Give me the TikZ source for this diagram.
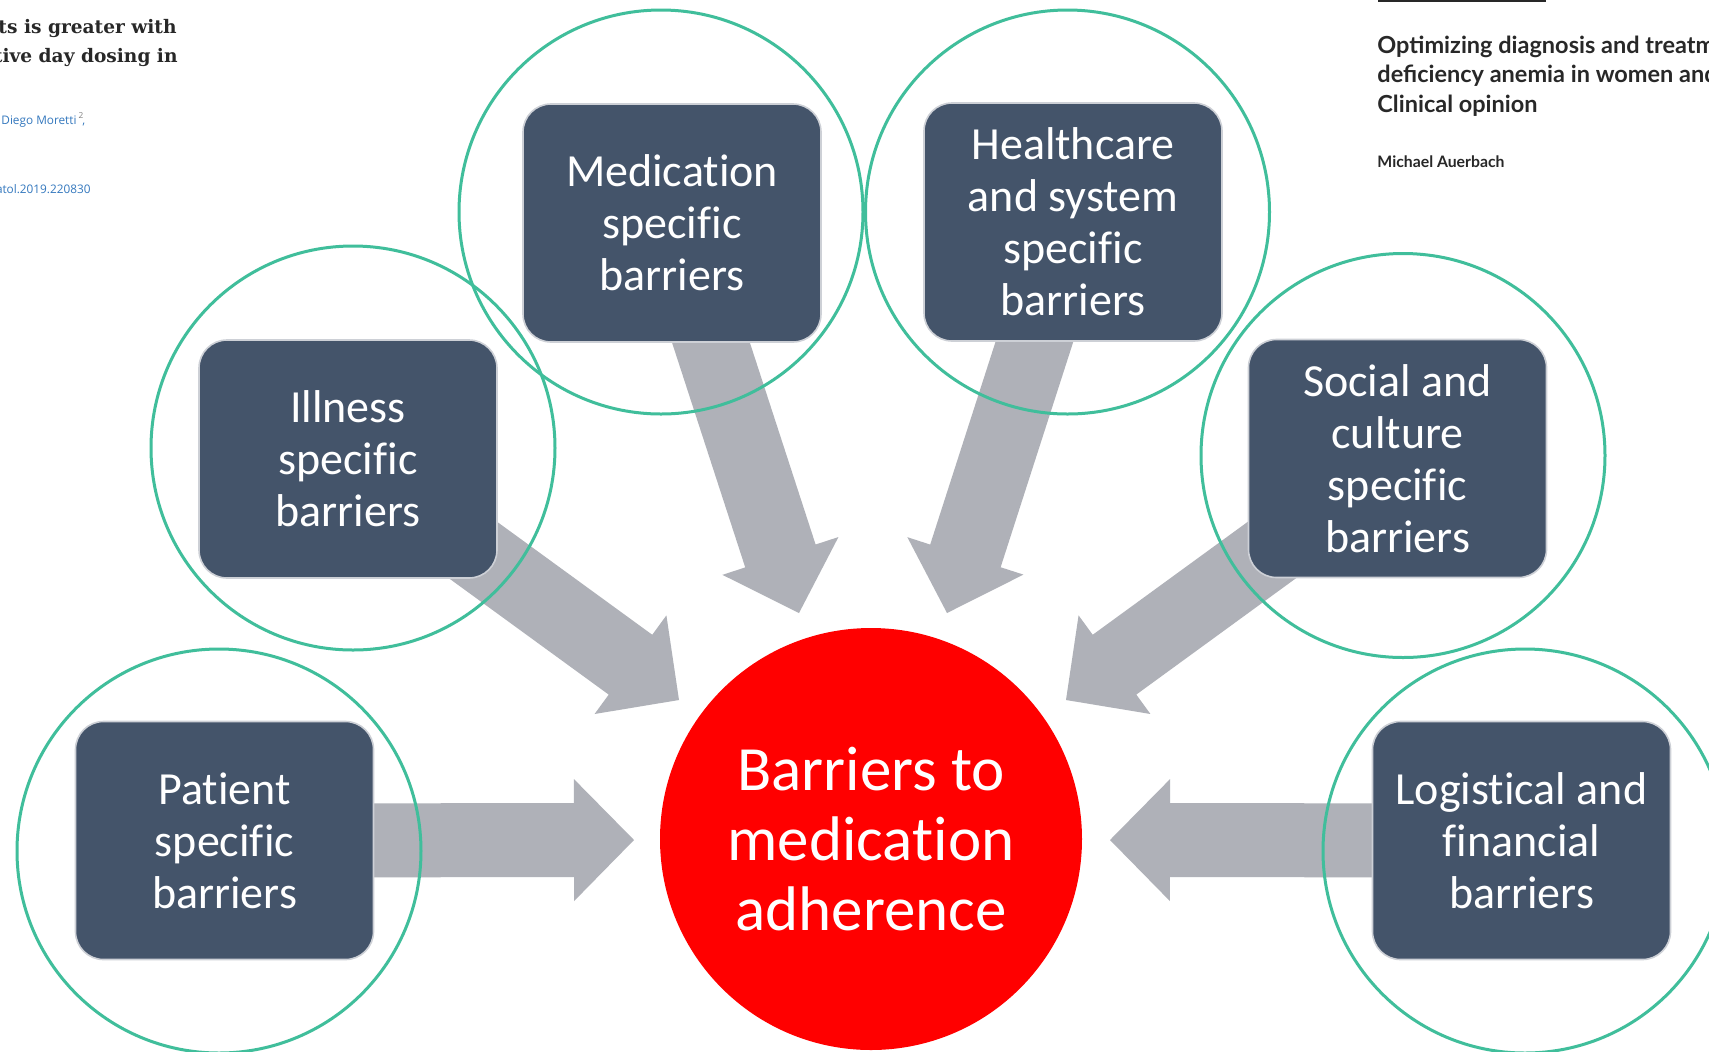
\documentclass[tikz,border=0pt]{standalone}
\usepackage{fontspec}
\usetikzlibrary{calc,backgrounds}
\newfontfamily\boxfont[Ligatures={NoCommon}]{Carlito}
\newfontfamily\latofont{Lato}
\newfontfamily\serfont{DejaVu Serif}
\newfontfamily\smallsans{Open Sans}
\definecolor{boxblue}{RGB}{68,84,106}
\definecolor{arrowgray}{RGB}{175,177,184}
\definecolor{ringgreen}{RGB}{64,190,155}
\definecolor{linkblue}{RGB}{52,120,190}
\definecolor{darktext}{RGB}{40,40,40}
\definecolor{boxedge}{RGB}{205,208,214}
\newcommand{\drawfatarrow}[2]{%
  \path ($(#2)!30pt!(#1)$) coordinate (hb);
  \fill[arrowgray]
    ($(#1)!18.5pt!90:(#2)$) -- ($(hb)!18.5pt!90:(#2)$) -- ($(hb)!30.5pt!90:(#2)$)
    -- (#2)
    -- ($(hb)!30.5pt!-90:(#2)$) -- ($(hb)!18.5pt!-90:(#2)$) -- ($(#1)!18.5pt!-90:(#2)$) -- cycle;}
\tikzset{
  barrierbox/.style={rectangle, rounded corners=14pt, fill=boxblue, draw=boxedge, line width=0.8pt,
    minimum width=149pt, minimum height=119pt, inner sep=0pt, align=center, text=white,
    font=\boxfont\fontsize{23}{26}\selectfont},
  ring/.style={circle, draw=ringgreen, line width=1.5pt, minimum size=202pt, inner sep=0pt},
  hub/.style={circle, fill=red, minimum size=211pt, inner sep=0pt, text=white, align=center,
    font=\boxfont\fontsize{31.5}{35}\selectfont},
  serifhead/.style={anchor=base east, inner sep=0pt, text=darktext, font=\serfont\bfseries\fontsize{9.3}{10}\selectfont},
  linktext/.style={inner sep=0pt, text=linkblue, font=\smallsans\fontsize{5.9}{6.5}\selectfont},
  papertitle/.style={anchor=base west, inner sep=0pt, text=darktext, font=\latofont\bfseries\fontsize{11.75}{14.5}\selectfont},
  paperauthor/.style={anchor=base west, inner sep=0pt, text=darktext, font=\latofont\bfseries\fontsize{7.9}{9}\selectfont}
}
\begin{document}
\begin{tikzpicture}[x=0.5pt,y=-0.5pt]
\useasboundingbox (0,0) rectangle (1709,1051);
\clip (0,0) rectangle (1709,1051);

% surrounding page fragments
\node[serifhead] (tl1) at (177,33) {ts is greater with};
\node[serifhead] (tl2) at (178,62) {tive day dosing in};
\node[linktext, anchor=base west] (tl3) at (1,124) {Diego Moretti\,\textsuperscript{\color{gray}2}\!,};
\node[linktext, anchor=base east] (tl4) at (91,193) {atol.2019.220830};
\draw[darktext, line width=1pt] (1378,1) -- (1546,1);
\node[papertitle] (tr1) at (1377,53) {Optimizing diagnosis and treatm};
\node[papertitle] (tr2) at (1377,82) {deficiency anemia in women and};
\node[papertitle] (tr3) at (1377,112) {Clinical opinion};
\node[paperauthor] (tr4) at (1377,167) {Michael Auerbach};

% hub
\node[hub] (hub) at (871,839) {Barriers to\\medication\\adherence};

% barrier boxes
\node[barrierbox] (med) at (672,223) {Medication\\specific\\barriers};
\node[barrierbox] (hc) at (1073,222) {Healthcare\\and system\\specific\\barriers};
\node[barrierbox] (ill) at (348,459) {Illness\\specific\\barriers};
\node[barrierbox] (soc) at (1397.5,458.5) {Social and\\culture\\specific\\barriers};
\node[barrierbox] (pat) at (224.5,840.5) {Patient\\specific\\barriers};
\node[barrierbox] (log) at (1521.5,840.5) {Logistical and\\financial\\barriers};

% arrow tips
\coordinate (medtip) at (799,613);
\coordinate (hctip) at (947,613);
\coordinate (illtip) at (679,700);
\coordinate (soctip) at (1066,700);
\coordinate (pattip) at (634,840);
\coordinate (logtip) at (1110,840);

\begin{scope}[on background layer]
  \fill[white] (0,0) rectangle (1709,1051);
  \drawfatarrow{med.center}{medtip}
  \drawfatarrow{hc.center}{hctip}
  \drawfatarrow{ill.center}{illtip}
  \drawfatarrow{soc.center}{soctip}
  \drawfatarrow{pat.center}{pattip}
  \drawfatarrow{log.center}{logtip}
\end{scope}

% highlight rings
\node[ring] (rmed) at (661,212) {};
\node[ring] (rhc) at (1067.5,212) {};
\node[ring] (rill) at (353,448) {};
\node[ring] (rsoc) at (1403,455.5) {};
\node[ring] (rpat) at (219,851) {};
\node[ring] (rlog) at (1525,851) {};
\end{tikzpicture}
\end{document}
